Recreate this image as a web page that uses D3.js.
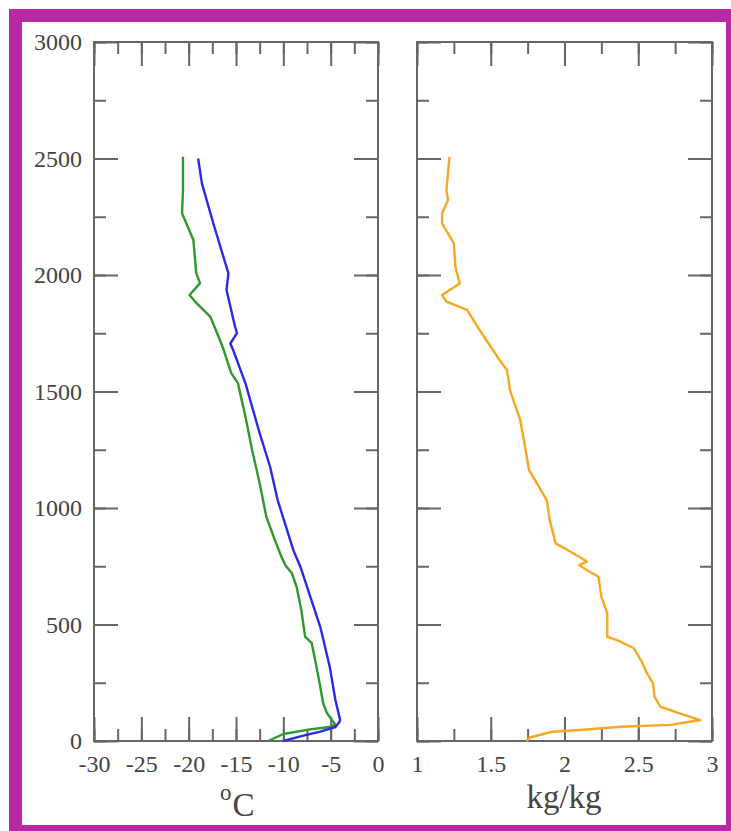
<!DOCTYPE html>
<html>
<head>
<meta charset="utf-8">
<script src="https://cdn.jsdelivr.net/npm/d3@7"></script>
<style>
  body { margin: 0; background: #fff; }
  text { font-family: "Liberation Serif", "DejaVu Serif", serif; fill: #444; }
  .tick line { stroke: #666; stroke-width: 2; }
</style>
</head>
<body>
<svg id="chart" width="731" height="831"></svg>
<script>
// temperature profile (blue), read bottom to top
const tempHeight = [0, 20, 40, 60, 80, 90, 176, 319, 490, 748, 820, 1034, 1177, 1321,
  1535, 1678, 1706, 1751, 1778, 1936, 2007, 2222, 2393, 2500];
const tempValue = [-10.0, -8.2, -6.1, -4.5, -4.1, -4.0, -4.5, -5.1, -6.1, -8.2, -8.95, -10.6,
  -11.4, -12.5, -14.0, -15.3, -15.6, -14.9, -15.1, -16.0, -15.8, -17.4, -18.6, -19.0];

// dew point profile (green)
const dewHeight = [0, 30, 50, 60, 70, 120, 163, 233, 319, 420, 448, 562, 662, 720, 755, 791,
  863, 963, 1106, 1249, 1392, 1536, 1579, 1678, 1721, 1820, 1880, 1914, 1965, 2008, 2150,
  2265, 2364, 2507];
const dewValue = [-11.6, -10.0, -7.2, -5.1, -4.5, -5.4, -5.8, -6.1, -6.5, -7.0, -7.7, -8.1,
  -8.6, -9.1, -9.8, -10.2, -10.9, -11.8, -12.5, -13.3, -14.0, -14.8, -15.5, -16.3, -16.7,
  -17.7, -19.2, -19.9, -18.8, -19.2, -19.5, -20.7, -20.6, -20.6];

// mixing ratio profile (orange)
const mixHeight = [0, 16, 40, 47, 61, 69, 90, 119, 147, 190, 247, 290, 333, 398, 426, 448,
  548, 619, 705, 734, 755, 770, 791, 820, 848, 948, 1034, 1163, 1378, 1506, 1592, 1635,
  1692, 1778, 1850, 1886, 1914, 1964, 2036, 2136, 2179, 2222, 2265, 2322, 2365, 2436, 2507];
const mixValue = [1.74, 1.77, 1.92, 2.10, 2.38, 2.72, 2.92, 2.78, 2.65, 2.61, 2.60, 2.56,
  2.53, 2.47, 2.38, 2.29, 2.29, 2.25, 2.23, 2.15, 2.10, 2.15, 2.10, 2.02, 1.94, 1.90, 1.88,
  1.76, 1.70, 1.63, 1.61, 1.56, 1.50, 1.41, 1.34, 1.20, 1.17, 1.29, 1.26, 1.25, 1.21, 1.17,
  1.17, 1.21, 1.20, 1.21, 1.22];

const heightTicks = [0, 500, 1000, 1500, 2000, 2500, 3000];
const tempTicks = [-30, -25, -20, -15, -10, -5, 0];
const mixTicks = [1, 1.5, 2, 2.5, 3];

const svg = d3.select('svg#chart');

// magenta frame
svg.append('rect')
  .attr('x', 9).attr('y', 9).attr('width', 722).attr('height', 822)
  .attr('fill', '#b82aa5');
svg.append('rect')
  .attr('x', 22).attr('y', 22).attr('width', 704).attr('height', 803)
  .attr('fill', '#fff');

const yScale = d3.scaleLinear().domain([0, 3000]).range([741, 42]);

const drawPanel = (props) => {
  const { x0, x1, domain, ticks, minorStep, showY } = props;
  const xScale = d3.scaleLinear().domain(domain).range([x0, x1]);
  const minorX = d3.range(domain[0], domain[1] + 1e-9, minorStep);
  const minorY = d3.range(0, 3001, 250);
  const g = svg.append('g');

  // minor ticks, inward on all four sides
  g.append('g').attr('transform', `translate(0,741)`)
    .call(d3.axisBottom(xScale).tickValues(minorX).tickSize(-12).tickFormat(''));
  g.append('g').attr('transform', `translate(0,42)`)
    .call(d3.axisTop(xScale).tickValues(minorX).tickSize(-12).tickFormat(''));
  g.append('g').attr('transform', `translate(${x0},0)`)
    .call(d3.axisLeft(yScale).tickValues(minorY).tickSize(-12).tickFormat(''));
  g.append('g').attr('transform', `translate(${x1},0)`)
    .call(d3.axisRight(yScale).tickValues(minorY).tickSize(-12).tickFormat(''));

  // major ticks
  g.append('g').attr('class', 'xAxis').attr('transform', `translate(0,741)`)
    .call(d3.axisBottom(xScale).tickValues(ticks).tickSize(-24).tickPadding(8)
      .tickFormat(d => String(d)));
  g.append('g').attr('transform', `translate(0,42)`)
    .call(d3.axisTop(xScale).tickValues(ticks).tickSize(-24).tickFormat(''));
  g.append('g').attr('class', 'yAxis').attr('transform', `translate(${x0},0)`)
    .call(d3.axisLeft(yScale).tickValues(heightTicks).tickSize(-24).tickPadding(12)
      .tickFormat(d => showY ? String(d) : ''));
  g.append('g').attr('transform', `translate(${x1},0)`)
    .call(d3.axisRight(yScale).tickValues(heightTicks).tickSize(-24).tickFormat(''));

  g.selectAll('.domain').remove();
  g.selectAll('.tick text')
    .attr('fill', '#444')
    .style('font-size', '24px')
    .style('font-family', '"Liberation Serif", serif');
  g.selectAll('.xAxis .tick text').attr('y', 14).attr('dy', '0.71em');

  g.append('rect')
    .attr('x', x0).attr('y', 42)
    .attr('width', x1 - x0).attr('height', 741 - 42)
    .attr('fill', 'none')
    .attr('stroke', '#666')
    .attr('stroke-width', 2);

  return xScale;
};

const drawProfile = (xScale, values, heights, color) => {
  const line = d3.line()
    .x(d => xScale(d[0]))
    .y(d => yScale(d[1]));
  svg.append('path')
    .datum(values.map((v, i) => [v, heights[i]]))
    .attr('d', line)
    .attr('fill', 'none')
    .attr('stroke', color)
    .attr('stroke-width', 2.4)
    .attr('stroke-linejoin', 'round');
};

const tempScale = drawPanel({ x0: 94, x1: 378, domain: [-30, 0], ticks: tempTicks, minorStep: 2.5, showY: true });
const mixScale = drawPanel({ x0: 417, x1: 712, domain: [1, 3], ticks: mixTicks, minorStep: 0.25, showY: false });

drawProfile(tempScale, dewValue, dewHeight, '#2c9a2c');
drawProfile(tempScale, tempValue, tempHeight, '#2a2ae8');
drawProfile(mixScale, mixValue, mixHeight, '#f7a823');

// axis titles
const degC = svg.append('text')
  .attr('x', 220).attr('y', 816);
degC.append('tspan')
  .attr('dy', -16)
  .style('font-size', '23px')
  .text('o');
degC.append('tspan')
  .attr('dy', 16)
  .attr('dx', 1)
  .style('font-size', '33px')
  .text('C');
svg.append('text')
  .attr('x', 564).attr('y', 808)
  .attr('text-anchor', 'middle')
  .style('font-size', '33px')
  .text('kg/kg');
</script>
</body>
</html>
